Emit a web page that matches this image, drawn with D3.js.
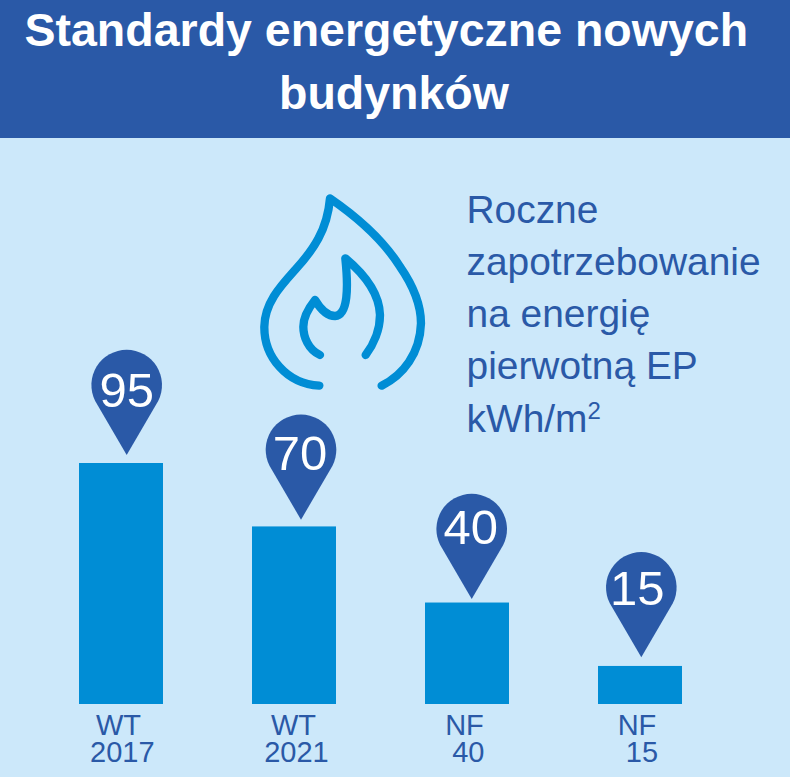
<!DOCTYPE html>
<html lang="pl">
<head>
<meta charset="utf-8">
<title>Standardy energetyczne nowych budynków</title>
<script src="https://cdn.jsdelivr.net/npm/d3@7"></script>
<style>
    html, body { margin: 0; padding: 0; background: #cce8fa; }
    svg { display: block; }
    text { font-family: "Liberation Sans", Arial, sans-serif; }
</style>
</head>
<body>
<svg id="chart" width="790" height="777"></svg>
<script>
//chart data
var categories = ["WT 2017", "WT 2021", "NF 40", "NF 15"];
var values = [95, 70, 40, 15];
var labelTop = ["WT", "WT", "NF", "NF"];
var labelBottom = ["2017", "2021", "40", "15"];
var titleLines = ["Standardy energetyczne nowych", "budynków"];
var noteLines = ["Roczne", "zapotrzebowanie", "na energię", "pierwotną EP"];

var blue = "#2a59a7";
var barBlue = "#008dd5";

var svg = d3.select("#chart");

//background and header
svg.append("rect").attr("width", 790).attr("height", 777).attr("fill", "#cce8fa");
svg.append("rect").attr("width", 790).attr("height", 138).attr("fill", blue);

//the two title lines are not centred on the same axis in the original
var titleX = [24.5, 279];

svg.selectAll(".title")
    .data(titleLines)
    .enter().append("text")
    .attr("class", "title")
    .attr("x", function (d, i) { return titleX[i]; })
    .attr("y", function (d, i) { return 46 + i * 62.5; })
    .attr("font-size", 46.5)
    .attr("font-weight", "bold")
    .attr("fill", "white")
    .text(function (d) { return d; });

/*---------------------------------- scales ----------------------------------*/

var x = d3.scaleBand().domain(categories).range([79, 682]).paddingInner(0.5145);
var y = d3.scaleLinear().domain([0, 95]).range([704, 463]);

//bars
svg.selectAll(".bar")
    .data(values)
    .enter().append("rect")
    .attr("class", "bar")
    .attr("x", function (d, i) { return x(categories[i]); })
    .attr("y", function (d) { return y(d); })
    .attr("width", x.bandwidth())
    .attr("height", function (d) { return y(0) - y(d); })
    .attr("fill", barBlue);

//map pins above the bars, nudged the way they sit in the original
var pinNudgeX = [5.7, 7, 4.7, 1.3];
var pinGap = [8, 6.7, 3.5, 8.6];
var pinTextX = [0, -1, -1, -4];
var pinTextY = [-48.5, -50, -55, -52];
var pinPath = "M0 0 L-31.5 -54 A35.3 35.3 0 1 1 31.5 -54 Z";

var pins = svg.selectAll(".pin")
    .data(values)
    .enter().append("g")
    .attr("class", "pin")
    .attr("transform", function (d, i) {
        var cx = x(categories[i]) + x.bandwidth() / 2 + pinNudgeX[i];
        return "translate(" + cx + "," + (y(d) - pinGap[i]) + ")";
    });

pins.append("path").attr("d", pinPath).attr("fill", blue);

pins.append("text")
    .attr("x", function (d, i) { return pinTextX[i]; })
    .attr("y", function (d, i) { return pinTextY[i]; })
    .attr("text-anchor", "middle")
    .attr("font-size", 49)
    .attr("fill", "white")
    .text(function (d) { return d; });

//category labels, two lines each, both slightly off the bar centre
var labelTopDx = [-2.5, -0.5, -2.5, -3];
var labelBottomDx = [1.3, 2.5, 1.3, 2];

var labels = svg.selectAll(".label")
    .data(categories)
    .enter().append("g")
    .attr("class", "label")
    .attr("font-size", 29)
    .attr("fill", blue)
    .attr("text-anchor", "middle");

labels.append("text")
    .attr("x", function (d, i) { return x(d) + x.bandwidth() / 2 + labelTopDx[i]; })
    .attr("y", 735)
    .text(function (d, i) { return labelTop[i]; });

labels.append("text")
    .attr("x", function (d, i) { return x(d) + x.bandwidth() / 2 + labelBottomDx[i]; })
    .attr("y", 762)
    .text(function (d, i) { return labelBottom[i]; });

/*---------------------------------- note ----------------------------------*/

svg.selectAll(".note")
    .data(noteLines)
    .enter().append("text")
    .attr("class", "note")
    .attr("x", 466.5)
    .attr("y", function (d, i) { return 222.7 + i * 52.2; })
    .attr("font-size", 38.9)
    .attr("fill", blue)
    .text(function (d) { return d; });

var unit = svg.append("text")
    .attr("x", 466.5)
    .attr("y", 431.5)
    .attr("font-size", 38.9)
    .attr("fill", blue);
unit.append("tspan").text("kWh/m");
unit.append("tspan").attr("font-size", 24).attr("dy", -12.5).text("2");

/*---------------------------------- flame ----------------------------------*/

var flame = svg.append("g")
    .attr("transform", "translate(240,180) scale(0.3333)")
    .attr("fill", "none")
    .attr("stroke", barBlue)
    .attr("stroke-width", 25)
    .attr("stroke-linecap", "round")
    .attr("stroke-linejoin", "round");

flame.append("path")
    .attr("d", "M238 617 C140 612 72 530 73 440 C74 370 120 320 165 270 C220 210 262 150 270 55 C350 110 430 180 480 260 C525 325 543 380 543 430 C540 520 490 585 425 617");
flame.append("path")
    .attr("d", "M240 525 C205 510 190 470 190 440 C190 410 205 385 225 360 C240 385 260 408 285 408 C325 405 325 320 316 235 C370 280 418 340 420 405 C420 450 400 495 377 525");
</script>
</body>
</html>
